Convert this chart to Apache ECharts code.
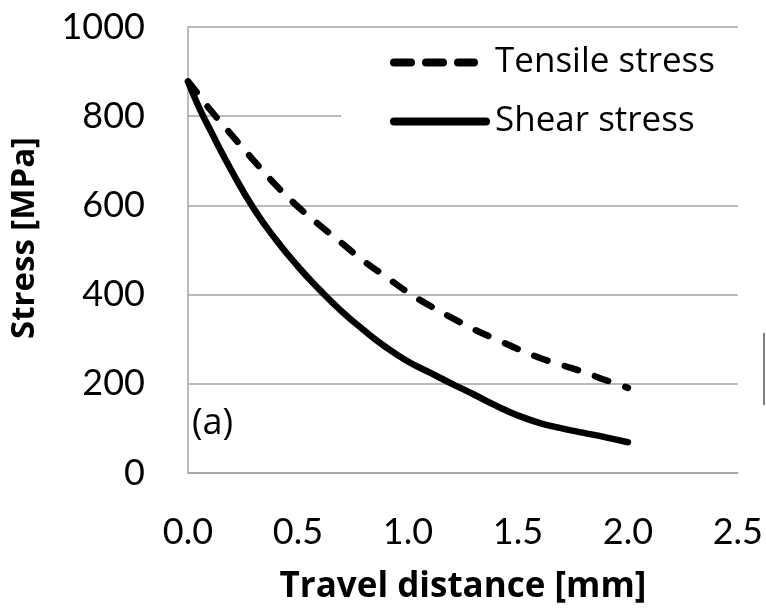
<!DOCTYPE html>
<html>
<head>
<meta charset="utf-8">
<script src="https://cdn.jsdelivr.net/npm/echarts@6/dist/echarts.min.js"></script>
<style>
  html, body { margin: 0; padding: 0; background: #fff; }
  #chart { width: 766px; height: 610px; }
</style>
</head>
<body>
<div id="chart"></div>
<script>
// Travel distance [mm]
const distance = [0, 0.05, 0.1, 0.2, 0.3, 0.4, 0.5, 0.6, 0.7, 0.8, 0.9, 1.0, 1.1, 1.2, 1.3, 1.4, 1.5, 1.6, 1.7, 1.8, 1.9, 2.0];
// Stress [MPa]
const tensileStress = [878, 847, 815, 757, 700, 645, 597, 555, 515, 475, 440, 405, 375, 348, 322, 300, 278, 258, 242, 226, 208, 191];
const shearStress   = [877, 820, 770, 676, 592, 523, 463, 410, 362, 320, 282, 250, 225, 200, 176, 151, 129, 112, 100, 90, 80, 69];
const seriesNames = ['Tensile stress', 'Shear stress'];
const xTicks = { min: 0, max: 2.5, step: 0.5 };
const yTicks = { min: 0, max: 1000, step: 200 };

const TICK_FONT = 'Lato, "Open Sans", sans-serif';
const TEXT_FONT = '"Open Sans", Lato, sans-serif';
const GRID_GRAY = '#a3a3a3';

// legend glyphs: three rounded dashes, and one continuous bar (same 100-wide frame)
const dashIcon = 'path://' +
  'M4,0 L21,0 A4,4 0 0 1 21,8 L4,8 A4,4 0 0 1 4,0 Z ' +
  'M36,0 L53,0 A4,4 0 0 1 53,8 L36,8 A4,4 0 0 1 36,0 Z ' +
  'M68,0 L84,0 A4,4 0 0 1 84,8 L68,8 A4,4 0 0 1 68,0 Z ' +
  'M100,4 L100,4 Z';
const solidIcon = 'path://M4,0 L96,0 A4,4 0 0 1 96,8 L4,8 A4,4 0 0 1 4,0 Z';

const pairs = ys => distance.map((x, i) => [x, ys[i]]);

const chart = echarts.init(document.getElementById('chart'), null, { renderer: 'canvas' });
chart.setOption({
  animation: false,
  backgroundColor: '#fff',
  grid: { left: 186, right: 27, top: 27, bottom: 132, containLabel: false },
  xAxis: {
    type: 'value',
    min: xTicks.min, max: xTicks.max, interval: xTicks.step,
    name: 'Travel distance [mm]',
    nameLocation: 'middle',
    nameGap: 97,
    nameTextStyle: { fontFamily: TEXT_FONT, fontWeight: 'bold', fontSize: 35, color: '#000' },
    axisLine: { show: true, lineStyle: { color: GRID_GRAY, width: 1.5 } },
    axisTick: { show: false },
    splitLine: { show: false },
    axisLabel: {
      margin: 41, fontFamily: TICK_FONT, fontSize: 36, color: '#000',
      formatter: v => v.toFixed(1)
    }
  },
  yAxis: {
    type: 'value',
    min: yTicks.min, max: yTicks.max, interval: yTicks.step,
    name: 'Stress [MPa]',
    nameLocation: 'middle',
    nameGap: 147,
    nameTextStyle: { fontFamily: TEXT_FONT, fontWeight: 'bold', fontSize: 33, color: '#000', padding: [0, 0, 0, 24] },
    axisLine: { show: true, lineStyle: { color: GRID_GRAY, width: 1.5 } },
    axisTick: { show: false },
    splitLine: { show: true, lineStyle: { color: GRID_GRAY, width: 1.5 } },
    axisLabel: { margin: 43, fontFamily: TICK_FONT, fontSize: 36, color: '#000', formatter: v => String(v) }
  },
  legend: {
    orient: 'vertical',
    left: 341, top: 39,
    padding: [6, 40, 10, 49],
    backgroundColor: '#fff',
    itemWidth: 100, itemHeight: 8, itemGap: 24,
    data: [
      { name: seriesNames[0], icon: dashIcon },
      { name: seriesNames[1], icon: solidIcon }
    ],
    itemStyle: { color: '#000' },
    textStyle: { fontFamily: TEXT_FONT, fontSize: 35, color: '#000' }
  },
  graphic: [
    { type: 'text', left: 192, top: 406, style: { text: '(a)', fontFamily: TEXT_FONT, fontSize: 36, fill: '#000' } },
    { type: 'line', shape: { x1: 753, y1: 76, x2: 753, y2: 96 }, style: { stroke: '#333', lineWidth: 1.5 } },
    { type: 'line', shape: { x1: 764, y1: 333, x2: 764, y2: 405 }, style: { stroke: '#555', lineWidth: 1.5 } }
  ],
  series: [
    {
      name: seriesNames[0], type: 'line', smooth: true, symbol: 'none',
      data: pairs(tensileStress),
      lineStyle: { color: '#000', width: 6.5, type: [14, 18], cap: 'round' },
      itemStyle: { color: '#000' }
    },
    {
      name: seriesNames[1], type: 'line', smooth: true, symbol: 'none',
      data: pairs(shearStress),
      lineStyle: { color: '#000', width: 6.5, type: 'solid', cap: 'round' },
      itemStyle: { color: '#000' }
    }
  ]
});
</script>
</body>
</html>
